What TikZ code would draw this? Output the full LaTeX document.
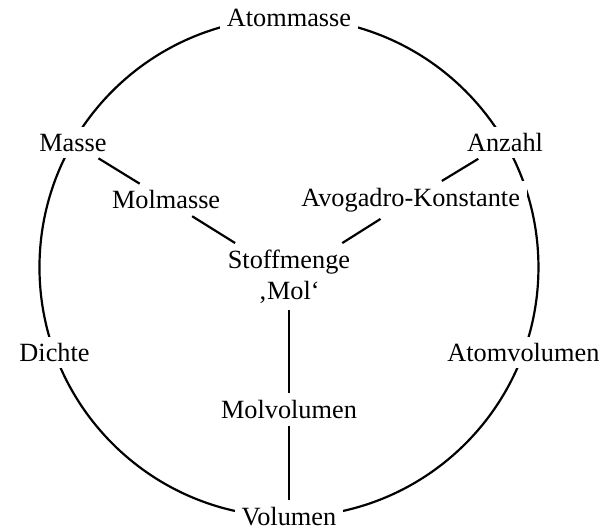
\documentclass[tikz,border=0pt]{standalone}
\usepackage{fontspec}
\setmainfont{Liberation Serif}
\usetikzlibrary{calc,positioning}
\begin{document}
\begin{tikzpicture}
    \tikzset{
      term/.style={fill=white, inner sep=3pt, font=\fontsize{12}{14}\selectfont},
      line/.style={draw, line width=1pt}
    }
    \useasboundingbox (0,0) rectangle (9.70,8.51);
    \coordinate (c) at (4.633,4.224);
    \path [line] (c) circle (4.0);
    % labels on the circle
    \node [term] (atommasse) at ($(c)+(90:4.0)$) {Atommasse};
    \node [term] (masse) at ($(c)+(150:4.0)$) {Masse};
    \node [term] (anzahl) at ($(c)+(30:4.0)$) {Anzahl};
    \node [term] (dichte) at ($(c)+(200:4.0)$) {Dichte};
    \node [term] (atomvol) at ($(c)+(-20:4.0)$) {Atomvolumen};
    \node [term] (volumen) at ($(c)+(-90:4.0)$) {Volumen};
    % inner labels
    \node [term, align=center] (stoff) at ($(c)+(0,-0.15)$) {Stoffmenge\\‚Mol‘};
    \node [term] (molmasse) at ($(stoff)+(-1.97,1.23)$) {Molmasse};
    \node [term] (avogadro) at ($(stoff)+(1.95,1.23)$) {Avogadro-Konstante};
    \node [term, below of=stoff, node distance=2.13cm] (molvol) {Molvolumen};

    \path [line] (masse)--(molmasse);
    \path [line] (molmasse)--(stoff);
    \path [line] (anzahl)--(avogadro);
    \path [line] (avogadro)--(stoff);
    \path [line] (stoff)--(molvol);
    \path [line] (molvol)--(volumen);
\end{tikzpicture}
\end{document}
